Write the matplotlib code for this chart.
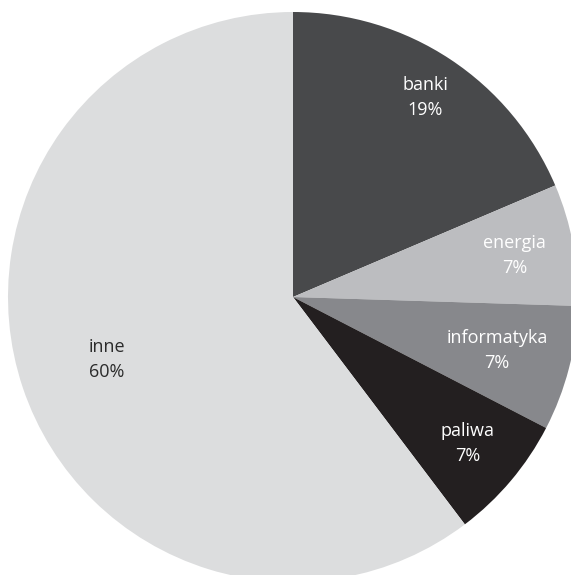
import matplotlib
matplotlib.use("Agg")
import matplotlib.pyplot as plt
import numpy as np

# dane
sectors = ["banki", "energia", "informatyka", "paliwa", "inne"]
shares = [18.6, 6.9, 7.1, 7.1, 60.3]
labels = ["19%", "7%", "7%", "7%", "60%"]
colors = ["#48494b", "#bcbdc0", "#87888c", "#231f20", "#dcddde"]
text_colors = ["white", "white", "white", "white", "#2b2b2b"]
label_r = [0.84, 0.79, 0.74, 0.80, 0.69]

plt.rcParams["font.family"] = ["Open Sans", "DejaVu Sans"]

fig = plt.figure(figsize=(5.71, 5.75), dpi=100)
ax = fig.add_axes([0, 0, 1, 1])

wedges, _ = ax.pie(shares, colors=colors, startangle=90, counterclock=False,
                   radius=1.0, wedgeprops=dict(linewidth=0))

for w, name, pct, tc, r in zip(wedges, sectors, labels, text_colors, label_r):
    mid = np.deg2rad((w.theta1 + w.theta2) / 2)
    ax.text(r * np.cos(mid), r * np.sin(mid), f"{name}\n{pct}",
            ha="center", va="center", color=tc, fontsize=13, linespacing=1.5)

ax.set_xlim(-293 / 285, (571 - 293) / 285)
ax.set_ylim(-(575 - 297) / 285, 297 / 285)
ax.set_aspect("equal", adjustable="box")
ax.axis("off")

fig.savefig("out.png", dpi=100)
